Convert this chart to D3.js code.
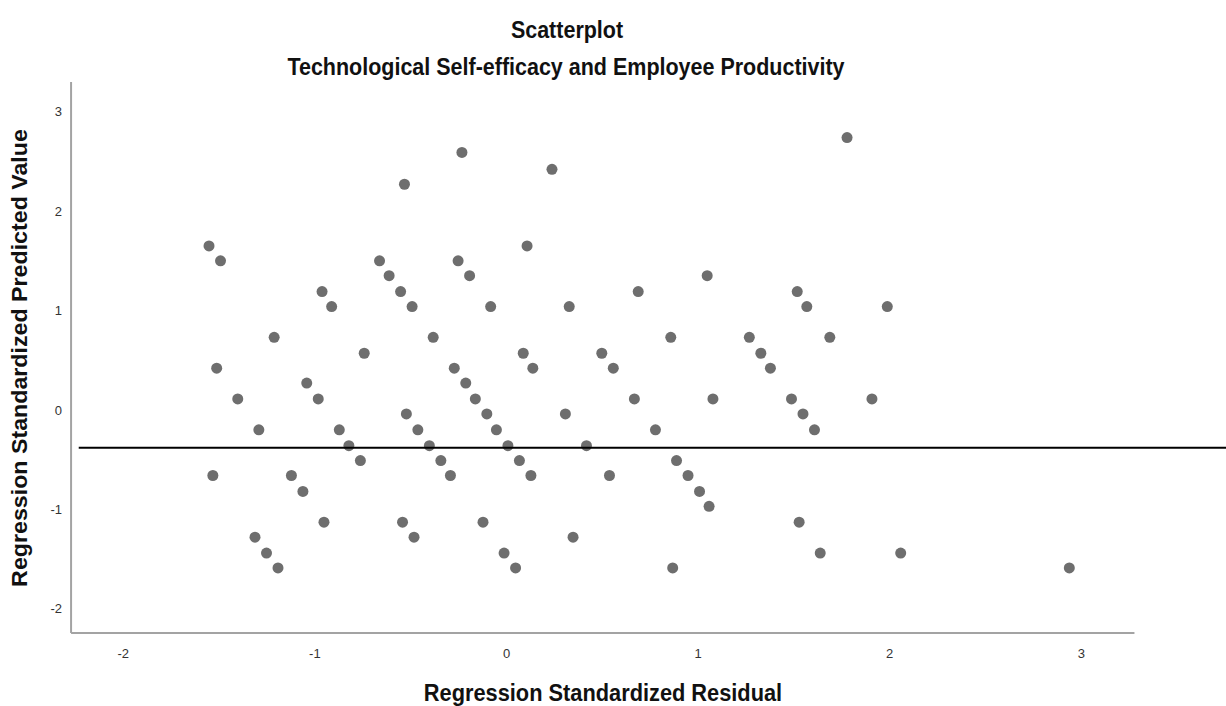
<!DOCTYPE html>
<html>
<head>
<meta charset="utf-8">
<script src="https://cdn.jsdelivr.net/npm/d3@7"></script>
<style>
  body { margin: 0; background: #fff; }
  svg { display: block; }
</style>
</head>
<body>
<svg id="drawsvg" width="1226" height="706"></svg>
<script>
// regression standardized residual (x) / predicted value (y)
var residual = [
  -1.55, -1.49, -0.96, -0.91, -1.21, -0.74, -1.51, -0.66, -0.61, -0.55,
  -1.04, -0.53, -0.23, 0.24, -0.25, -0.19, -0.49, -0.08, 0.33, 0.11,
  1.05, 0.69, 1.52, -0.38, 0.86, 1.27, 1.33, 1.38, 0.09, 0.14,
  0.50, 0.56, -0.27, -0.21, -1.40, -0.98, -1.29, -0.87, -0.82, -0.76,
  -1.53, -1.12, -1.06, -0.95, -0.54, -1.31, -1.25, -1.19, -0.16, -0.10,
  -0.05, 0.01, 0.07, 0.13, -0.52, -0.46, -0.40, -0.34, -0.29, 0.31,
  0.42, 0.54, 0.67, 0.78, 1.08, 0.89, 0.95, 1.01, 1.06, -0.48,
  -0.12, 0.35, -0.01, 0.05, 0.87, 1.49, 1.55, 1.53, 1.78, 1.57,
  1.99, 1.69, 1.91, 1.61, 1.64, 2.06, 2.94
];
var predicted = [
  1.65, 1.50, 1.19, 1.04, 0.73, 0.57, 0.42, 1.50, 1.35, 1.19,
  0.27, 2.27, 2.59, 2.42, 1.50, 1.35, 1.04, 1.04, 1.04, 1.65,
  1.35, 1.19, 1.19, 0.73, 0.73, 0.73, 0.57, 0.42, 0.57, 0.42,
  0.57, 0.42, 0.42, 0.27, 0.11, 0.11, -0.20, -0.20, -0.36, -0.51,
  -0.66, -0.66, -0.82, -1.13, -1.13, -1.28, -1.44, -1.59, 0.11, -0.04,
  -0.20, -0.36, -0.51, -0.66, -0.04, -0.20, -0.36, -0.51, -0.66, -0.04,
  -0.36, -0.66, 0.11, -0.20, 0.11, -0.51, -0.66, -0.82, -0.97, -1.28,
  -1.13, -1.28, -1.44, -1.59, -1.59, 0.11, -0.04, -1.13, 2.74, 1.04,
  1.04, 0.73, 0.11, -0.20, -1.44, -1.44, -1.59
];
var xTicks = [-2, -1, 0, 1, 2, 3];
var yTicks = [-2, -1, 0, 1, 2, 3];
var fitLine = [[-2.23, -0.38], [3.8, -0.38]];

var titleText = 'Scatterplot';
var subtitleText = 'Technological Self-efficacy and Employee Productivity';
var xLabel = 'Regression Standardized Residual';
var yLabel = 'Regression Standardized Predicted Value';

var svg = d3.select('#drawsvg');
var font = '"Liberation Sans", Arial, sans-serif';

var x = d3.scaleLinear().domain([-2, 3]).range([506 - 2 * 191.6, 506 + 3 * 191.6]);
var y = d3.scaleLinear().domain([-2, 3]).range([409.9 + 2 * 99.4, 409.9 - 3 * 99.4]);

var xMin = -2.27, xMax = 3.28, yMin = -2.245, yMax = 3.3;

// plain hyphen for negatives, like the original
var fmt = function(d){ return String(d); };

// axes (no tick marks, just the frame lines + labels)
var xAxis = d3.axisBottom(x).tickValues(xTicks).tickSize(0).tickPadding(16).tickFormat(fmt);
var yAxis = d3.axisLeft(y).tickValues(yTicks).tickSize(0).tickPadding(9).tickFormat(fmt);

var gx = svg.append('g')
  .attr('transform', 'translate(0,' + y(yMin) + ')')
  .call(xAxis);
gx.select('.domain').remove();
gx.selectAll('text')
  .style('font', '13px ' + font)
  .style('fill', '#333');

var gy = svg.append('g')
  .attr('transform', 'translate(' + x(xMin) + ',0)')
  .call(yAxis);
gy.select('.domain').remove();
gy.selectAll('text')
  .style('font', '13px ' + font)
  .style('fill', '#333');

svg.append('line')
  .attr('x1', x(xMin)).attr('x2', x(xMax))
  .attr('y1', y(yMin)).attr('y2', y(yMin))
  .style('stroke', '#a3a3a3')
  .style('stroke-width', 2);
svg.append('line')
  .attr('x1', x(xMin)).attr('x2', x(xMin))
  .attr('y1', y(yMin)).attr('y2', y(yMax))
  .style('stroke', '#a3a3a3')
  .style('stroke-width', 2);

// points
var pts = residual.map(function(r, i){ return {r: r, p: predicted[i]}; });
svg.append('g')
  .selectAll('circle')
  .data(pts)
  .enter()
  .append('circle')
  .attr('cx', function(d){ return x(d.r); })
  .attr('cy', function(d){ return y(d.p); })
  .attr('r', 5.5)
  .style('fill', '#6e6e6e');

// fit line
svg.append('line')
  .attr('x1', x(fitLine[0][0])).attr('y1', y(fitLine[0][1]))
  .attr('x2', x(fitLine[1][0])).attr('y2', y(fitLine[1][1]))
  .style('stroke', '#000')
  .style('stroke-width', 2);

// titles
function addText(txt, tx, ty, size, rot){
  var tr = 'translate(' + tx + ',' + ty + ')';
  tr += rot ? ' rotate(-90) scale(1.08,1)' : ' scale(1,1.08)';
  svg.append('text')
    .text(txt)
    .attr('transform', tr)
    .attr('text-anchor', 'middle')
    .style('font', 'bold ' + size + 'px ' + font)
    .style('fill', '#111');
}
addText(titleText, 567, 38, 21.5);
addText(subtitleText, 566, 75, 21.5);
addText(xLabel, 603, 701, 21.8);
addText(yLabel, 27, 358, 21.5, true);
</script>
</body>
</html>
